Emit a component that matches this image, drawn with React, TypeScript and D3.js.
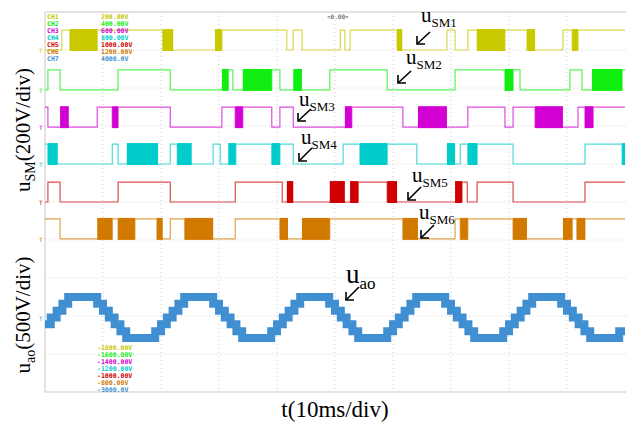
import React from 'react';
import * as d3 from 'd3';

// channel names / colours
const channels = ['CH1', 'CH2', 'CH3', 'CH4', 'CH5', 'CH6', 'CH7'];
const colors = ['#c9c900', '#11ee11', '#d200d2', '#00cccc', '#d00000', '#d27a00', '#3f8fd2'];
const topScales = ['200.00V', '400.00V', '600.00V', '800.00V', '1000.00V', '1200.00V', '4000.0V'];
const bottomOffsets = ['-1800.00V', '-1600.00V', '-1400.00V', '-1200.00V', '-1000.00V', '-800.00V', '-3000.0V'];

// ground position of each SM trace (divisions from screen centre)
const smGround = [4.0, 2.95, 1.97, 1.0, 0.0, -0.97];
const smVolts = 105; // capacitor voltage of one SM, V
const smScale = 200; // V/div

// switching edges (ms) and state after each edge: L = bypassed, H = inserted, P = PWM
const sm1Edges = [0, 2.9, 4.3, 9.0, 20.3, 22.1, 29.3, 30.5, 41.7, 42.8, 44.3, 50.9, 51.7, 52.6, 60.7, 61.6, 69.3, 70.7, 72.9, 74.5, 79.3, 83.1, 84.5, 89.3, 90.9, 91.9];
const sm1States = 'LHPHPLPHLHLHLHPLHLHPHPLHPH';
const sm2Edges = [0, 0.5, 2.6, 12.6, 21.6, 30.5, 31.6, 32.4, 34.1, 39.1, 40.5, 42.8, 44.3, 49.1, 59.0, 70.7, 79.3, 80.7, 81.9, 90.5, 92.6, 94.3, 99.5];
const sm2States = 'LHLHLPHLPHLPLHLHPHLHLPH';
const sm3Edges = [0, 0.5, 2.6, 4.1, 9.0, 11.6, 12.6, 21.6, 30.5, 32.8, 34.1, 39.1, 40.5, 42.8, 51.7, 52.9, 61.7, 64.3, 69.3, 72.9, 79.3, 80.7, 84.5, 89.3, 91.9, 93.1, 94.5];
const sm3States = 'HLPLHPHLHPHLHLPHLPLHLHPLHPH';
const sm4Edges = [0, 0.5, 2.2, 11.6, 12.6, 14.1, 19.5, 21.6, 22.8, 25.3, 29.0, 30.2, 31.6, 32.9, 39.1, 40.5, 42.8, 51.4, 54.3, 59.0, 64.1, 69.3, 70.7, 71.6, 72.9, 74.5, 80.7, 93.1, 99.5];
const sm4States = 'HPLHLPLHPLHLPHPHLHPHLPLHPHLHP';
const sm5Edges = [0, 0.5, 2.6, 12.6, 21.6, 32.8, 40.9, 41.7, 42.8, 49.1, 51.7, 52.6, 54.0, 59.0, 60.7, 70.7, 71.9, 72.8, 74.5, 80.7, 93.1];
const sm5States = 'LHLHLHLPLPLPHPLPHLHLH';
const sm6Edges = [0, 2.6, 9.0, 11.6, 12.6, 15.5, 19.3, 20.3, 21.6, 24.1, 29.0, 32.8, 40.5, 41.9, 44.3, 49.1, 61.7, 64.3, 70.7, 71.6, 72.9, 80.7, 83.1, 89.3, 90.9, 91.7, 93.1];
const sm6States = 'HLPHPHPLHPLHPLPHPLHPHPLPHPH';

const smEdges = [sm1Edges, sm2Edges, sm3Edges, sm4Edges, sm5Edges, sm6Edges];
const smStates = [sm1States, sm2States, sm3States, sm4States, sm5States, sm6States];

// u_ao staircase level per ms (0..99), in SM steps
const aoLevels = [
  -1, 0, 1, 2, 3, 3, 3, 3, 3, 2, 1, 0, -1, -2, -3, -3, -3, -3, -3, -2,
  -1, 0, 1, 2, 3, 3, 3, 3, 3, 2, 1, 0, -1, -2, -3, -3, -3, -3, -3, -2,
  -1, 0, 1, 2, 3, 3, 3, 3, 3, 2, 1, 0, -1, -2, -3, -3, -3, -3, -3, -2,
  -1, 0, 1, 2, 3, 3, 3, 3, 3, 2, 1, 0, -1, -2, -3, -3, -3, -3, -3, -2,
  -1, 0, 1, 2, 3, 3, 3, 3, 3, 2, 1, 0, -1, -2, -3, -3, -3, -3, -3, -2,
];
const aoGround = -3.04;
const aoStepVolts = 90;
const aoScale = 500;

const gridMs = [10, 20, 30, 40, 50, 60, 70, 80, 90];
const gridDiv = [-4, -3, -2, -1, 0, 1, 2, 3, 4];

const W = 626;
const H = 426;

const App: React.FC = () => {
  const x = d3.scaleLinear().domain([0, 100]).range([45, 625]);
  const y = d3.scaleLinear().domain([-5, 5]).range([392, 12]);

  const stepLine = d3
    .line<[number, number]>()
    .x((d) => x(d[0]))
    .y((d) => y(d[1]))
    .curve(d3.curveStepAfter);

  const smTraces = smEdges.map((edges, ci) => {
    const lo = smGround[ci];
    const hi = lo + smVolts / smScale;
    const states = smStates[ci];
    const pts: [number, number][] = edges.map((t, i) => [t, states[i] === 'H' ? hi : lo]);
    pts.push([100, pts[pts.length - 1][1]]);
    const blocks = edges
      .map((t, i) => ({ t0: t, t1: i + 1 < edges.length ? edges[i + 1] : 100, s: states[i] }))
      .filter((b) => b.s === 'P');
    return { d: stepLine(pts) || '', blocks, lo, hi };
  });

  const aoPts: [number, number][] = aoLevels.map((l, i) => [i, aoGround + (l * aoStepVolts) / aoScale]);
  aoPts.push([100, aoPts[aoPts.length - 1][1]]);

  const serif = 'Liberation Serif, Times New Roman, serif';
  const mono = 'DejaVu Sans Mono, monospace';

  const annotations = [
    { name: 'SM1', tx: 421, ty: 22, ax: 430, ay: 32, hx: 417, hy: 44 },
    { name: 'SM2', tx: 406, ty: 64, ax: 411, ay: 71, hx: 398, hy: 83 },
    { name: 'SM3', tx: 299, ty: 106, ax: 311, ay: 109, hx: 298, hy: 121 },
    { name: 'SM4', tx: 301, ty: 144, ax: 312, ay: 148, hx: 299, hy: 161 },
    { name: 'SM5', tx: 412, ty: 182, ax: 421, ay: 187, hx: 408, hy: 200 },
    { name: 'SM6', tx: 419, ty: 219, ax: 434, ay: 225, hx: 421, hy: 238 },
  ];

  const arrow = (ax: number, ay: number, hx: number, hy: number, key: string) => (
    <g key={key} stroke="#000" strokeWidth={1.6} fill="none">
      <line x1={ax} y1={ay} x2={hx} y2={hy} />
      <polyline points={`${hx},${hy - 8} ${hx},${hy} ${hx + 8},${hy}`} />
    </g>
  );

  return (
    <svg width={W} height={H} style={{ position: 'absolute', left: 0, top: 0, background: '#fff' }}>
      {/* screen frame */}
      <g stroke="#c8c8c8" strokeWidth={1}>
        <line x1={45} y1={12} x2={626} y2={12} />
        <line x1={45} y1={12} x2={45} y2={392} />
        <line x1={45} y1={392} x2={626} y2={392} />
      </g>
      {/* grid */}
      <g stroke="#cfcfcf" strokeWidth={1} strokeDasharray="1,3">
        {gridMs.map((t) => (
          <line key={'v' + t} x1={x(t)} y1={12} x2={x(t)} y2={392} />
        ))}
        {gridDiv.map((d) => (
          <line key={'h' + d} x1={45} y1={y(d)} x2={626} y2={y(d)} />
        ))}
      </g>

      {/* SM voltage traces */}
      {smTraces.map((tr, ci) => (
        <g key={'sm' + ci}>
          {tr.blocks.map((b, bi) => (
            <rect
              key={bi}
              x={x(b.t0)}
              y={y(tr.hi) - 1}
              width={x(b.t1) - x(b.t0)}
              height={y(tr.lo) - y(tr.hi) + 2}
              fill={colors[ci]}
            />
          ))}
          <path d={tr.d} fill="none" stroke={colors[ci]} strokeWidth={1.2} strokeOpacity={0.7} />
          <text x={39} y={y(tr.lo) + 3} fontSize={6} fontFamily={mono} fill={colors[ci]}>
            T
          </text>
        </g>
      ))}

      {/* u_ao staircase */}
      <path d={stepLine(aoPts) || ''} fill="none" stroke={colors[6]} strokeWidth={8} />
      <text x={39} y={y(aoGround) + 3} fontSize={6} fontFamily={mono} fill={colors[6]}>
        T
      </text>

      {/* scope legends */}
      <g fontFamily={mono} fontSize={6.5} fontWeight="bold">
        {channels.map((c, i) => (
          <g key={c}>
            <text x={47} y={19 + i * 7} fill={colors[i]}>
              {c}
            </text>
            <text x={101} y={19 + i * 7} fill={colors[i]}>
              {topScales[i]}
            </text>
            <text x={97} y={350 + i * 7} fill={colors[i]}>
              {bottomOffsets[i]}
            </text>
          </g>
        ))}
      </g>
      <text x={327} y={19} fontSize={6} fontFamily={mono} fill="#333">
        {'<0.00>'}
      </text>

      {/* annotations */}
      <g fontFamily={serif} fill="#000">
        {annotations.map((a) => (
          <g key={a.name}>
            <text x={a.tx} y={a.ty} fontSize={21}>
              u
              <tspan fontSize={13} dy={5}>
                {a.name}
              </tspan>
            </text>
            {arrow(a.ax, a.ay, a.hx, a.hy, 'ar' + a.name)}
          </g>
        ))}
        <text x={346} y={283} fontSize={27}>
          u
          <tspan fontSize={17} dy={6}>
            ao
          </tspan>
        </text>
        {arrow(359, 287, 346, 300, 'arao')}
      </g>

      {/* axis labels */}
      <g fontFamily={serif} fill="#000">
        <text transform="translate(30,130) rotate(-90)" textAnchor="middle" fontSize={21}>
          u
          <tspan fontSize={14} dy={5}>
            SM
          </tspan>
          <tspan dy={-5}>(200V/div)</tspan>
        </text>
        <text transform="translate(30,315) rotate(-90)" textAnchor="middle" fontSize={21}>
          u
          <tspan fontSize={14} dy={5}>
            ao
          </tspan>
          <tspan dy={-5}>(500V/div)</tspan>
        </text>
        <text x={335} y={417} textAnchor="middle" fontSize={23}>
          t(10ms/div)
        </text>
      </g>
    </svg>
  );
};

export default App;
